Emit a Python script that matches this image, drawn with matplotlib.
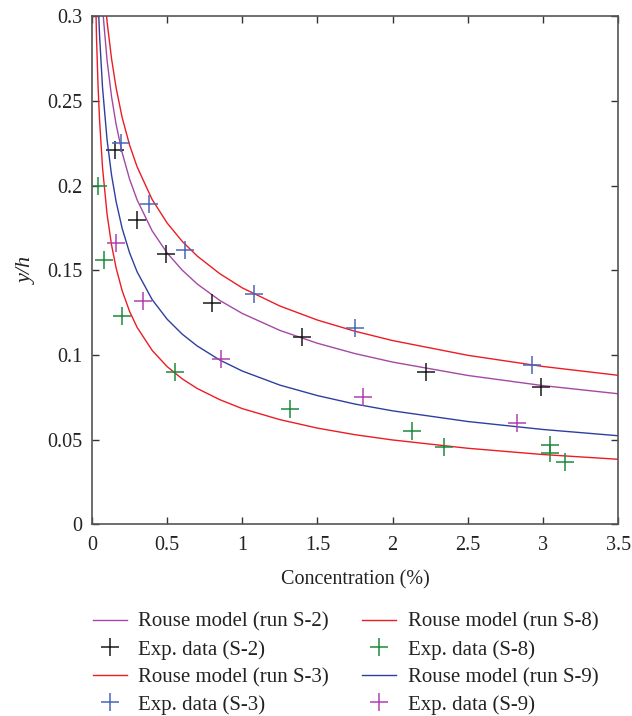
import numpy as np
import matplotlib
matplotlib.use("Agg")
import matplotlib.pyplot as plt

plt.rcParams['font.family'] = ['Liberation Serif', 'DejaVu Serif']

# model curves
x_model = [0.02, 0.03, 0.04, 0.05, 0.07, 0.1, 0.13, 0.16, 0.2, 0.25, 0.3, 0.4, 0.5,
           0.6, 0.7, 0.85, 1.0, 1.25, 1.5, 1.75, 2.0, 2.5, 3.0, 3.5]
rouse_s2 = [0.428, 0.386, 0.358, 0.336, 0.305, 0.2742, 0.2526, 0.2364, 0.2197, 0.2039,
            0.1917, 0.1734, 0.1603, 0.1502, 0.1420, 0.1323, 0.1246, 0.1146, 0.1070,
            0.1009, 0.0959, 0.0880, 0.0820, 0.0772]
rouse_s3 = [0.452, 0.410, 0.382, 0.360, 0.329, 0.297, 0.275, 0.258, 0.2405, 0.2240,
            0.2112, 0.1919, 0.1780, 0.1672, 0.1585, 0.1481, 0.1397, 0.1290, 0.1207,
            0.1141, 0.1086, 0.0999, 0.0933, 0.0881]
rouse_s8 = [0.329, 0.287, 0.2593, 0.2391, 0.2106, 0.1833, 0.1650, 0.1516, 0.1382, 0.1258,
            0.1164, 0.1028, 0.0932, 0.0860, 0.0803, 0.0737, 0.0684, 0.0619, 0.0569,
            0.0530, 0.0499, 0.0450, 0.0413, 0.0385]
rouse_s9 = [0.385, 0.341, 0.311, 0.289, 0.2579, 0.2272, 0.2063, 0.1908, 0.1750, 0.1604,
            0.1492, 0.1328, 0.1212, 0.1124, 0.1054, 0.0971, 0.0906, 0.0823, 0.0761,
            0.0711, 0.0671, 0.0608, 0.0561, 0.0524]

# experimental data
s2_x = [0.15, 0.30, 0.49, 0.80, 1.40, 2.22, 2.99]
s2_y = [0.221, 0.180, 0.160, 0.131, 0.111, 0.090, 0.081]
s3_x = [0.19, 0.38, 0.62, 1.08, 1.75, 2.93]
s3_y = [0.225, 0.189, 0.162, 0.136, 0.116, 0.094]
s8_x = [0.04, 0.08, 0.20, 0.55, 1.32, 2.13, 2.34, 3.05, 3.05, 3.15]
s8_y = [0.200, 0.156, 0.123, 0.090, 0.068, 0.055, 0.046, 0.047, 0.042, 0.037]
s9_x = [0.16, 0.34, 0.86, 1.80, 2.83]
s9_y = [0.166, 0.132, 0.098, 0.075, 0.060]

red = '#ec1c24'
purple = '#a349a4'
navy = '#2e3f9e'

fig = plt.figure(figsize=(6.32, 7.16), dpi=100)
ax = fig.add_axes([0.1456, 0.2675, 0.8324, 0.7095])

ms = 13
mew = 1.1
lw = 1.0
l1, = ax.plot(x_model, rouse_s2, color=purple, lw=lw)
p1, = ax.plot(s2_x, s2_y, '+', color='#1a1a1a', ms=ms, mew=mew)
l2, = ax.plot(x_model, rouse_s3, color=red, lw=lw)
p2, = ax.plot(s3_x, s3_y, '+', color='#4a66b8', ms=ms, mew=mew)
l3, = ax.plot(x_model, rouse_s8, color=red, lw=lw)
p3, = ax.plot(s8_x, s8_y, '+', color='#1e8a3c', ms=ms, mew=mew)
l4, = ax.plot(x_model, rouse_s9, color=navy, lw=lw)
p4, = ax.plot(s9_x, s9_y, '+', color='#b040b0', ms=ms, mew=mew)

ax.set_xlim(0, 3.5)
ax.set_ylim(0, 0.3)
ax.set_xticks(np.arange(0, 3.51, 0.5))
ax.set_xticklabels(['0', '0.5', '1', '1.5', '2', '2.5', '3', '3.5'])
ax.set_yticks([0, 0.05, 0.1, 0.15, 0.2, 0.25, 0.3])
ax.set_yticklabels(['0', '0.05', '0.1', '0.15', '0.2', '0.25', '0.3'])
ax.tick_params(direction='in', top=True, right=True, length=5, width=1,
               labelsize=14.5, colors='#333333', labelcolor='#222222')
ax.tick_params(axis='x', pad=8)
ax.tick_params(axis='y', pad=7)
for s in ax.spines.values():
    s.set_color('#555555')
    s.set_linewidth(1.2)

ax.set_xlabel('Concentration (%)', fontsize=14.5, color='#222222', labelpad=11)
ax.set_ylabel('y/h', fontsize=16, style='italic', color='#222222', labelpad=7)

leg = fig.legend([l1, p1, l2, p2, l3, p3, l4, p4],
                 ['Rouse model (run S-2)', 'Exp. data (S-2)',
                  'Rouse model (run S-3)', 'Exp. data (S-3)',
                  'Rouse model (run S-8)', 'Exp. data (S-8)',
                  'Rouse model (run S-9)', 'Exp. data (S-9)'],
                 ncol=2, loc='upper left', bbox_to_anchor=(0.1467, 0.1448),
                 frameon=False, fontsize=15, handlelength=1.63,
                 handletextpad=0.56, columnspacing=1.59, labelspacing=0.38,
                 borderpad=0, borderaxespad=0)
for t in leg.get_texts():
    t.set_color('#222222')

fig.savefig('out.png', dpi=100)
